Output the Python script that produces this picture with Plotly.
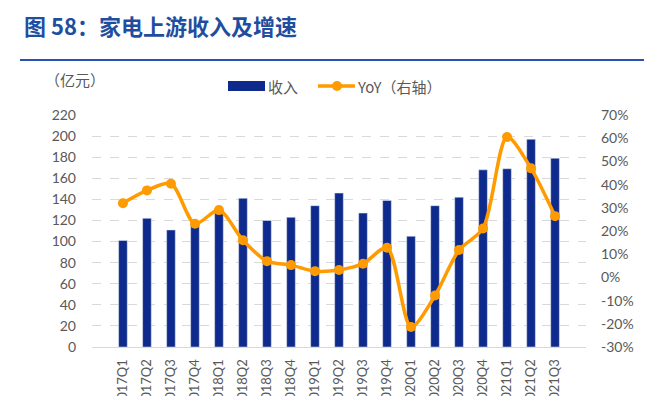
import plotly.graph_objects as go

categories = ["2017Q1","2017Q2","2017Q3","2017Q4","2018Q1","2018Q2","2018Q3","2018Q4",
              "2019Q1","2019Q2","2019Q3","2019Q4","2020Q1","2020Q2","2020Q3","2020Q4",
              "2021Q1","2021Q2","2021Q3"]
revenue = [101, 122, 111, 117, 128, 141, 120, 123, 134, 146, 127, 139, 105, 134, 142, 168, 169, 197, 179]
yoy = [32, 37.5, 40.4, 23.1, 29, 16, 7, 5.3, 2.7, 3.2, 5.9, 12.8, -21.4, -7.8, 11.8, 21.1, 60.5, 47, 26.4]
left_ticks = list(range(0, 221, 20))
right_ticks = list(range(-30, 71, 10))
right_labels = [f"{v}%" for v in right_ticks]

FONT = "Lato, 'Noto Sans CJK SC', sans-serif"
CJK = "'Noto Sans CJK SC', sans-serif"
GREY = "#595959"
BLUE = "#0E2A8C"
ORANGE = "#FF9B00"

# page has an 8px body margin: figure sized to fit the 652x396 window
W, H = 644, 388
PL, PT, PW, PH = 84, 107, 494, 232   # plot area in figure coords


def fx(xs):  # screen x -> paper x
    return (xs - 8 - PL) / PW


def fy(ys):  # screen y -> paper y
    return (PT + PH - (ys - 8)) / PH


fig = go.Figure()
fig.add_trace(go.Bar(x=categories, y=revenue, name="收入", marker_color=BLUE, yaxis="y"))
fig.add_trace(go.Scatter(x=categories, y=yoy, name="YoY（右轴）", yaxis="y2",
                         mode="lines+markers",
                         line=dict(color=ORANGE, width=3.5, shape="spline", smoothing=0.8),
                         marker=dict(size=10, color=ORANGE)))

fig.update_layout(
    width=W, height=H,
    margin=dict(l=PL, r=W - PL - PW, t=PT, b=H - PT - PH),
    paper_bgcolor="white", plot_bgcolor="white",
    bargap=0.64,
    showlegend=False,
    xaxis=dict(type="category", tickangle=-90, tickfont=dict(family=FONT, size=13, color=GREY),
               showline=True, linecolor="#D9D9D9", linewidth=1, ticks="", automargin=False,
               showgrid=False, ticklabelstandoff=6),
    yaxis=dict(range=[0, 220], tickvals=left_ticks, tickfont=dict(family=FONT, size=14, color=GREY),
               showgrid=True, gridcolor="#D9D9D9", griddash="dash", gridwidth=1,
               zeroline=False, automargin=False, ticklabelstandoff=15),
    yaxis2=dict(range=[-30, 70], tickvals=right_ticks, ticktext=right_labels,
                overlaying="y", side="right",
                tickfont=dict(family=FONT, size=14, color=GREY), showgrid=False, zeroline=False,
                automargin=False, ticklabelstandoff=14),
)

# title and rule
fig.add_annotation(text="图 58：家电上游收入及增速", xref="paper", yref="paper",
                   x=fx(22), y=fy(25), xanchor="left", yanchor="middle",
                   showarrow=False, font=dict(family=CJK, size=22, color="#1F4E9F", weight="bold"))
fig.add_shape(type="line", xref="paper", yref="paper", x0=fx(20), x1=fx(651),
              y0=fy(60), y1=fy(60), line=dict(color="#2A50B0", width=2))
# unit
fig.add_annotation(text="（亿元）", xref="paper", yref="paper", x=fx(43), y=fy(80),
                   xanchor="left", yanchor="middle", showarrow=False,
                   font=dict(family=CJK, size=15, color=GREY))
# legend
fig.add_shape(type="rect", xref="paper", yref="paper", x0=fx(228), x1=fx(265),
              y0=fy(91), y1=fy(81), fillcolor=BLUE, line=dict(width=0))
fig.add_annotation(text="收入", xref="paper", yref="paper", x=fx(266), y=fy(86),
                   xanchor="left", yanchor="middle", showarrow=False,
                   font=dict(family=CJK, size=15, color=GREY))
fig.add_shape(type="line", xref="paper", yref="paper", x0=fx(318), x1=fx(355),
              y0=fy(86), y1=fy(86), line=dict(color=ORANGE, width=3.5))
fig.add_shape(type="circle", xref="paper", yref="paper", x0=fx(332), x1=fx(342),
              y0=fy(91), y1=fy(81), fillcolor=ORANGE, line=dict(width=0))
fig.add_annotation(text="YoY（右轴）", xref="paper", yref="paper", x=fx(355), y=fy(86),
                   xanchor="left", yanchor="middle", showarrow=False,
                   font=dict(family=CJK, size=15, color=GREY))

fig.write_html("out.html")
